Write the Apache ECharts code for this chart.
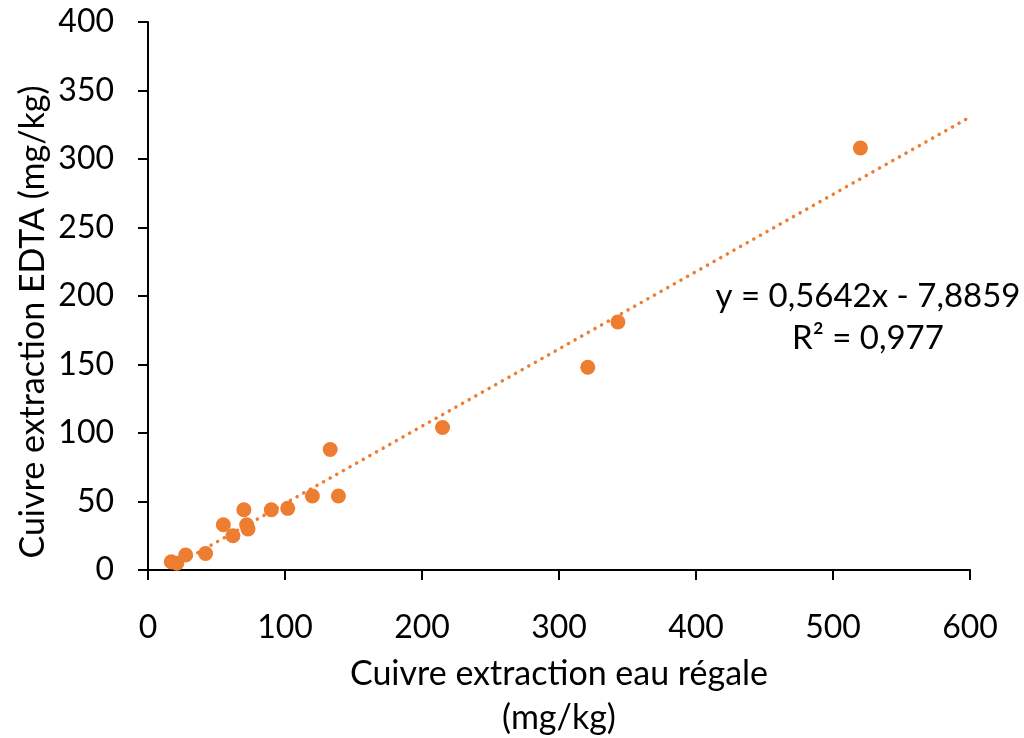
<!DOCTYPE html>
<html>
<head>
<meta charset="utf-8">
<script src="https://cdn.jsdelivr.net/npm/echarts@6/dist/echarts.min.js"></script>
<style>
  html, body { margin: 0; padding: 0; background: #fff; }
  #main { width: 1024px; height: 738px; }
</style>
</head>
<body>
<div id="main"></div>
<script>
// données (mg/kg)
var cuivreEauRegale = [17, 21, 27.5, 42, 55, 62, 70, 72, 73, 90, 102, 120, 133, 139, 215, 321, 343, 520];
var cuivreEDTA      = [6, 5, 11, 12, 33, 25, 44, 33, 30, 44, 45, 54, 88, 54, 104, 148, 181, 308];
var xTicks = [0, 100, 200, 300, 400, 500, 600];
var yTicks = [0, 50, 100, 150, 200, 250, 300, 350, 400];

// courbe de tendance affichée (Excel)
var pente = 0.5642;
var ordonnee = -7.8859;
var r2 = "0,977";

var points = cuivreEauRegale.map(function (x, i) { return [x, cuivreEDTA[i]]; });
var xDebut = Math.min.apply(null, cuivreEauRegale);
var xFin = xTicks[xTicks.length - 1];
var tendance = [[xDebut, pente * xDebut + ordonnee], [xFin, pente * xFin + ordonnee]];

var police = "Lato";
var orange = "#ED7D31";

var option = {
    animation: false,
    grid: { left: 148, right: 54, top: 22, bottom: 168, outerBoundsMode: "none", containLabel: false },
    xAxis: {
        type: "value",
        min: xTicks[0],
        max: xFin,
        interval: 100,
        name: "Cuivre extraction eau régale\n(mg/kg)",
        nameLocation: "middle",
        nameGap: 82,
        nameTextStyle: { fontFamily: police, fontSize: 34, color: "#000", lineHeight: 44 },
        axisLine: { lineStyle: { color: "#000", width: 2 } },
        axisTick: { show: true, length: 10, lineStyle: { color: "#000", width: 2 } },
        axisLabel: { fontFamily: police, fontSize: 32, color: "#000", margin: 42 },
        splitLine: { show: false }
    },
    yAxis: {
        type: "value",
        min: yTicks[0],
        max: yTicks[yTicks.length - 1],
        interval: 50,
        axisLine: { show: true, lineStyle: { color: "#000", width: 2 } },
        axisTick: { show: true, length: 10, lineStyle: { color: "#000", width: 2 } },
        axisLabel: { fontFamily: police, fontSize: 32, color: "#000", margin: 34 },
        splitLine: { show: false }
    },
    graphic: [
        {
            type: "text",
            x: 33, y: 322,
            rotation: Math.PI / 2,
            style: {
                text: "Cuivre extraction EDTA (mg/kg)",
                font: "34px " + police,
                fill: "#000",
                textAlign: "center",
                textVerticalAlign: "middle"
            }
        },
        {
            type: "text",
            x: 868, y: 296,
            style: {
                text: "y = " + String(pente).replace(".", ",") + "x - " + String(-ordonnee).replace(".", ","),
                font: "33px " + police, fill: "#000",
                textAlign: "center", textVerticalAlign: "middle"
            }
        },
        {
            type: "text",
            x: 868, y: 338,
            style: {
                text: "R² = " + r2,
                font: "33px " + police, fill: "#000",
                textAlign: "center", textVerticalAlign: "middle"
            }
        }
    ],
    series: [
        {
            type: "line",
            data: tendance,
            symbol: "none",
            silent: true,
            z: 1,
            lineStyle: { color: orange, width: 3.5, type: [0.1, 7.5], cap: "round" }
        },
        {
            type: "scatter",
            data: points,
            symbolSize: 15,
            z: 2,
            itemStyle: { color: orange, opacity: 1 }
        }
    ]
};

var chart = echarts.init(document.getElementById("main"));
chart.setOption(option);
</script>
</body>
</html>
